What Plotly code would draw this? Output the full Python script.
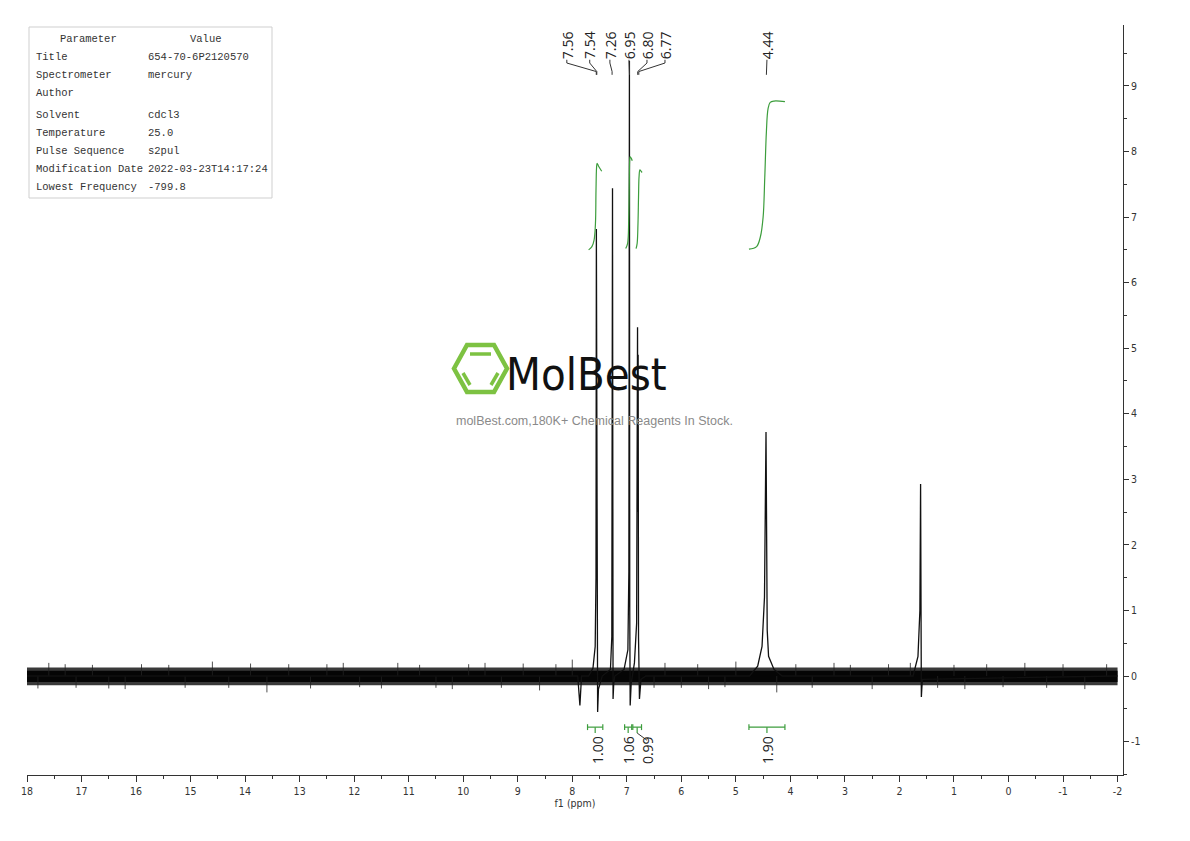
import plotly.graph_objects as go

# ---------------- data ----------------
x_tick_vals = list(range(18, -3, -1))
x_tick_text = ["18", "17", "16", "15", "14", "13", "12", "11", "10", "9", "8",
               "7", "6", "5", "4", "3", "2", "1", "0", "-1", "-2"]
x_minor_vals = [v + 0.5 for v in range(-2, 18)]
y_tick_vals = list(range(-1, 10))
y_tick_text = ["-1", "0", "1", "2", "3", "4", "5", "6", "7", "8", "9"]
y_minor_vals = [v + 0.5 for v in range(-2, 10)]

# main spectrum line (ppm, intensity)
spec_ppm = [18.0, 7.90, 7.86, 7.83, 7.70, 7.62, 7.58, 7.565, 7.558, 7.553, 7.548, 7.542, 7.535,
            7.52, 7.45, 7.30, 7.275, 7.262, 7.258, 7.252, 7.24, 7.22, 7.05, 6.98, 6.962,
            6.952, 6.946, 6.938, 6.92, 6.86, 6.82, 6.803, 6.798, 6.792, 6.785, 6.778, 6.768,
            6.74, 6.65, 4.75, 4.60, 4.52, 4.475, 4.447, 4.44, 4.425, 4.40, 4.30, 4.15,
            1.75, 1.66, 1.625, 1.612, 1.606, 1.598, 1.58, -2.0]
spec_int = [0.0, 0.0, -0.45, 0.0, 0.0, 0.12, 0.45, 1.5, 6.82, 3.0, 6.62, 0.6, -0.55,
            -0.2, 0.0, 0.1, 0.6, 7.44, 0.5, -0.35, -0.12, 0.0, 0.1, 0.4, 1.6,
            9.38, 1.0, -0.45, -0.12, 0.2, 0.8, 5.32, 2.5, 4.9, 0.6, 0.2, -0.35,
            -0.05, 0.0, 0.0, 0.15, 0.45, 1.2, 3.72, 2.6, 0.7, 0.3, 0.1, 0.0,
            0.0, 0.3, 1.0, 2.93, 0.3, -0.32, -0.05, 0.0]

# baseline noise band (outer fuzz and dense core)
noise_ppm = [18.0, -2.0]
noise_outer_hi = [0.13, 0.13]
noise_outer_lo = [-0.14, -0.14]
noise_core_hi = [0.08, 0.08]
noise_core_lo = [-0.09, -0.09]
spike_ppm = [17.8, 17.6, 17.3, 17.1, 16.8, 16.5, 16.2, 15.9, 15.4, 15.1, 14.6, 14.3, 13.9, 13.6,
             13.2, 12.8, 12.5, 12.2, 11.9, 11.5, 11.2, 10.8, 10.5, 10.2, 9.9, 9.6, 9.3, 8.9,
             8.6, 8.3, 8.0, 6.5, 6.3, 6.0, 5.7, 5.5, 5.2, 5.0, 4.25, 3.9, 3.6, 3.2, 2.9, 2.5,
             2.2, 1.8, 1.3, 1.0, 0.8, 0.4, 0.1, -0.3, -0.7, -1.0, -1.4, -1.8]
spike_val = [-0.19, 0.2, 0.18, -0.18, 0.17, -0.19, -0.2, 0.18, 0.17, -0.18, 0.22, -0.18, 0.19, -0.25,
             0.18, -0.19, 0.18, 0.2, -0.17, -0.19, 0.2, 0.17, -0.18, -0.2, 0.18, 0.2, -0.18, 0.19,
             -0.22, 0.18, 0.25, -0.18, 0.2, -0.18, 0.18, -0.2, -0.17, 0.22, -0.25, 0.18, -0.18, 0.2, 0.17, -0.2,
             0.18, 0.2, -0.18, 0.17, -0.2, 0.18, -0.17, 0.2, -0.18, 0.18, -0.2, 0.18]

# peak labels
peak_label_text = ["7.56", "7.54", "7.26", "6.95", "6.80", "6.77", "4.44"]
peak_label_ppm = [8.10, 7.68, 7.31, 6.96, 6.63, 6.30, 4.43]
peak_ppm = [7.56, 7.55, 7.27, 6.95, 6.80, 6.78, 4.44]

# integrals
int_start = [7.72, 7.04, 6.89, 4.76]
int_end = [7.44, 6.91, 6.73, 4.10]
int_text = ["1.00", "1.06", "0.99", "1.90"]
int_label_ppm = [7.55, 6.98, 6.63, 4.43]
int_curve_ppm = [
    [7.70, 7.64, 7.60, 7.575, 7.565, 7.555, 7.545, 7.52, 7.46],
    [7.02, 6.985, 6.965, 6.955, 6.948, 6.94, 6.92, 6.90],
    [6.83, 6.81, 6.795, 6.785, 6.775, 6.76, 6.74, 6.72],
    [4.76, 4.62, 4.55, 4.50, 4.47, 4.44, 4.41, 4.37, 4.30, 4.10],
]
int_curve_val = [
    [6.50, 6.55, 6.65, 6.90, 7.40, 7.75, 7.82, 7.78, 7.70],
    [6.52, 6.60, 6.95, 7.50, 7.85, 7.92, 7.90, 7.86],
    [6.52, 6.60, 6.90, 7.30, 7.62, 7.72, 7.70, 7.68],
    [6.51, 6.55, 6.70, 7.00, 7.60, 8.30, 8.65, 8.75, 8.77, 8.76],
]

param_names = ["Title", "Spectrometer", "Author", "Solvent", "Temperature",
               "Pulse Sequence", "Modification Date", "Lowest Frequency"]
param_values = ["654-70-6P2120570", "mercury", "", "cdcl3", "25.0",
                "s2pul", "2022-03-23T14:17:24", "-799.8"]

# ---------------- figure ----------------
# page body has an 8px margin; size the figure so the plot lands where it should
OFF = 8
W, H = 1190 - 2 * OFF, 841 - 2 * OFF
ML, MT = 27 - OFF, 25 - OFF
MR = W - (1123 - OFF)
MB = H - (775 - OFF)
PW, PH = W - ML - MR, H - MT - MB


def px(x):
    return (x - OFF - ML) / PW


def py(y):
    return 1 - (y - OFF - MT) / PH


GREEN = "#3c9d3c"
fig = go.Figure()

# noise band
for lo, hi, col in [(noise_outer_lo, noise_outer_hi, "#3a3a3a"), (noise_core_lo, noise_core_hi, "#050505")]:
    fig.add_trace(go.Scatter(x=noise_ppm, y=lo, mode="lines", line=dict(color=col, width=0),
                             hoverinfo="skip", showlegend=False))
    fig.add_trace(go.Scatter(x=noise_ppm, y=hi, mode="lines", line=dict(color=col, width=0),
                             fill="tonexty", fillcolor=col, hoverinfo="skip", showlegend=False))
sx, sy = [], []
for p, v in zip(spike_ppm, spike_val):
    sx += [p, p, None]
    sy += [0, v, None]
fig.add_trace(go.Scatter(x=sx, y=sy, mode="lines", line=dict(color="#222", width=0.8),
                         hoverinfo="skip", showlegend=False))

# spectrum
fig.add_trace(go.Scatter(x=spec_ppm, y=spec_int, mode="lines", line=dict(color="#111", width=1.3),
                         showlegend=False))

# integral curves
for cx, cy in zip(int_curve_ppm, int_curve_val):
    fig.add_trace(go.Scatter(x=cx, y=cy, mode="lines", line=dict(color=GREEN, width=1.2, shape="spline"),
                             showlegend=False, hoverinfo="skip"))

# integral brackets
BY = -0.78
for s, e, t, lp in zip(int_start, int_end, int_text, int_label_ppm):
    c = (s + e) / 2
    fig.add_trace(go.Scatter(x=[s, e, None, s, s, None, e, e, None, c, c],
                             y=[BY, BY, None, BY - 0.045, BY + 0.045, None, BY - 0.045, BY + 0.045,
                                None, BY, BY - 0.09],
                             mode="lines", line=dict(color=GREEN, width=1.2),
                             showlegend=False, hoverinfo="skip"))
    if abs(lp - c) > 0.05:
        fig.add_trace(go.Scatter(x=[c, lp], y=[BY - 0.09, BY - 0.2], mode="lines",
                                 line=dict(color="#333", width=1), showlegend=False, hoverinfo="skip"))
    fig.add_annotation(x=lp, y=-1.13, text=t, showarrow=False, textangle=-90,
                       font=dict(family="Open Sans, sans-serif", size=14, color="#222"),
                       xanchor="center", yanchor="middle")

# peak labels and leaders
for t, lp, pp in zip(peak_label_text, peak_label_ppm, peak_ppm):
    fig.add_annotation(x=lp, y=9.62, text=t, showarrow=False, textangle=-90,
                       font=dict(family="Open Sans, sans-serif", size=14, color="#222"),
                       xanchor="center", yanchor="middle")
    fig.add_trace(go.Scatter(x=[lp, lp, pp, pp], y=[9.40, 9.35, 9.22, 9.17], mode="lines",
                             line=dict(color="#333", width=1), showlegend=False, hoverinfo="skip"))

shapes = []
# parameter table box
shapes.append(dict(type="rect", xref="paper", yref="paper", x0=px(29), x1=px(272), y0=py(198), y1=py(27),
                   line=dict(color="#cfcfcf", width=1), fillcolor="white", layer="above"))

# watermark hexagon logo
hex_pts = [(454, 368.5), (467, 345), (494, 345), (507, 368.5), (494, 392), (467, 392)]
path = "M " + " L ".join(f"{px(a):.5f},{py(b):.5f}" for a, b in hex_pts) + " Z"
shapes.append(dict(type="path", xref="paper", yref="paper", path=path,
                   line=dict(color="#7dc242", width=4.5)))
for (a0, b0, a1, b1) in [(470, 354, 491, 354), (463, 373, 470, 385), (498, 373, 491, 385)]:
    shapes.append(dict(type="line", xref="paper", yref="paper", x0=px(a0), y0=py(b0), x1=px(a1), y1=py(b1),
                       line=dict(color="#7dc242", width=3.5)))

annotations = []
annotations.append(dict(xref="paper", yref="paper", x=px(586), y=py(374), text="MolBest", showarrow=False,
                        font=dict(family="DejaVu Sans Condensed, Liberation Sans Narrow, sans-serif",
                                  size=45, color="#111"), xanchor="center", yanchor="middle"))
annotations.append(dict(xref="paper", yref="paper", x=px(594), y=py(421),
                        text="molBest.com,180K+ Chemical Reagents In Stock.", showarrow=False,
                        font=dict(family="Liberation Sans, Arial, sans-serif", size=12.5, color="#8a8a8a"),
                        xanchor="center", yanchor="middle"))

TFONT = dict(family="Liberation Mono, DejaVu Sans Mono, monospace", size=10.5, color="#333")
annotations.append(dict(xref="paper", yref="paper", x=px(88), y=py(39), text="Parameter", showarrow=False,
                        font=TFONT, xanchor="center", yanchor="middle"))
annotations.append(dict(xref="paper", yref="paper", x=px(206), y=py(39), text="Value", showarrow=False,
                        font=TFONT, xanchor="center", yanchor="middle"))
row_y = [57, 75, 93, 115, 133, 151, 169, 187]
for n, v, ry in zip(param_names, param_values, row_y):
    annotations.append(dict(xref="paper", yref="paper", x=px(34), y=py(ry), text=n, showarrow=False,
                            font=TFONT, xanchor="left", yanchor="middle"))
    if v:
        annotations.append(dict(xref="paper", yref="paper", x=px(146), y=py(ry), text=v, showarrow=False,
                                font=TFONT, xanchor="left", yanchor="middle"))

AXFONT = dict(family="DejaVu Sans Condensed, Liberation Sans Narrow, sans-serif", size=10.5, color="#333")
fig.update_layout(
    width=W, height=H,
    margin=dict(l=ML, r=MR, t=MT, b=MB, autoexpand=False),
    plot_bgcolor="white", paper_bgcolor="white",
    showlegend=False,
    shapes=shapes,
    annotations=list(fig.layout.annotations) + annotations,
    xaxis=dict(range=[18, -2.1], showgrid=False, zeroline=False, showline=True, linecolor="#333",
               linewidth=1, ticks="outside", ticklen=6, tickcolor="#333", tickmode="array",
               tickvals=x_tick_vals, ticktext=x_tick_text, tickfont=AXFONT,
               minor=dict(tickmode="array", tickvals=x_minor_vals, ticks="outside", ticklen=3,
                          tickcolor="#333", showgrid=False),
               title=dict(text="f1 (ppm)", font=AXFONT, standoff=2)),
    yaxis=dict(range=[-1.51, 9.93], side="right", showgrid=False, zeroline=False, showline=True,
               linecolor="#333", linewidth=1, ticks="outside", ticklen=5, tickcolor="#333",
               tickmode="array", tickvals=y_tick_vals, ticktext=y_tick_text, tickfont=AXFONT,
               minor=dict(tickmode="array", tickvals=y_minor_vals, ticks="outside", ticklen=3,
                          tickcolor="#333", showgrid=False)),
)

fig.write_html("out.html")
